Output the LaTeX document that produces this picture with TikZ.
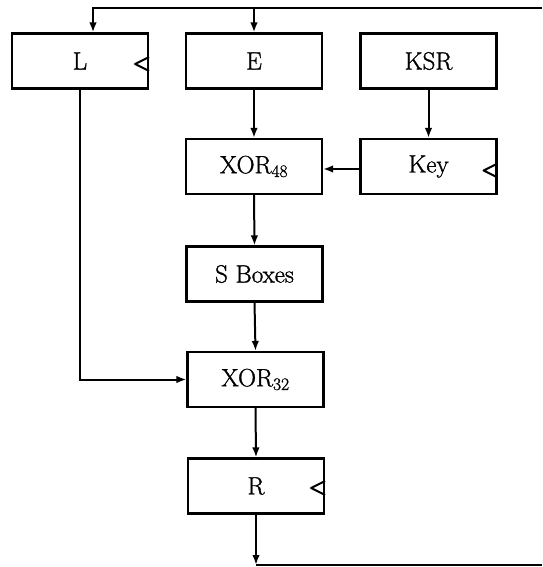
\documentclass[tikz,border=0pt]{standalone}
\usepackage{fontspec}
\setmainfont{Latin Modern Roman}
\newfontfamily\heavyrm{Latin Modern Roman}[FakeBold=1.2]
\usetikzlibrary{arrows.meta,calc}
\begin{document}
\begin{tikzpicture}[x=1pt,y=-1pt,
  blk/.style={draw, line width=2.1pt, minimum width=136pt, minimum height=55pt, inner sep=0pt, font=\heavyrm\fontsize{25}{29}\selectfont},
  wire/.style={line width=2pt},
  arr/.style={wire, -{Latex[length=10pt,width=7.5pt]}},
  clk/.style={line width=2pt, line join=round}
]
\useasboundingbox (0,0) rectangle (542,567);
\node[blk] (L) at (80,61) {L};
\node[blk] (E) at (254,61) {E};
\node[blk] (KSR) at (428.5,61) {KSR};
\node[blk] (X48) at (254,166.5) {XOR\textsubscript{48}};
\node[blk] (Key) at (428.5,166.5) {Key};
\node[blk] (SB) at (254.5,274) {S Boxes};
\node[blk] (X32) at (255.5,379.5) {XOR\textsubscript{32}};
\node[blk] (R) at (256,486) {R};
% clock triangles
\draw[clk] ($(L.east)+(0,-4)$) -- ($(L.east)+(-14,3)$) -- ($(L.east)+(0,10)$);
\draw[clk] ($(Key.east)+(0,-3)$) -- ($(Key.east)+(-14,4)$) -- ($(Key.east)+(0,11)$);
\draw[clk] ($(R.east)+(0,-5)$) -- ($(R.east)+(-14,2)$) -- ($(R.east)+(0,9)$);
% connectors
\coordinate (tr) at (542,8);
\coordinate (br) at (542,565);
\draw[arr] (tr) -| ([xshift=13pt]L.north);
\draw[arr] (E.north |- tr) -- (E.north);
\draw[arr] (E.south) -- (X48.north);
\draw[arr] (KSR.south) -- (Key.north);
\draw[arr] ([yshift=-2.5pt]Key.west) -- ([yshift=-2.5pt]X48.east);
\draw[arr] (X48.south) -- (SB.north);
\draw[arr] (SB.south) -- (X32.north);
\draw[arr] (L.south) |- (X32.west);
\draw[arr] (X32.south) -- (R.north);
\draw[arr] (R.south) -- (R.south |- br);
\draw[wire] (R.south |- br) -- (br);
\end{tikzpicture}
\end{document}
